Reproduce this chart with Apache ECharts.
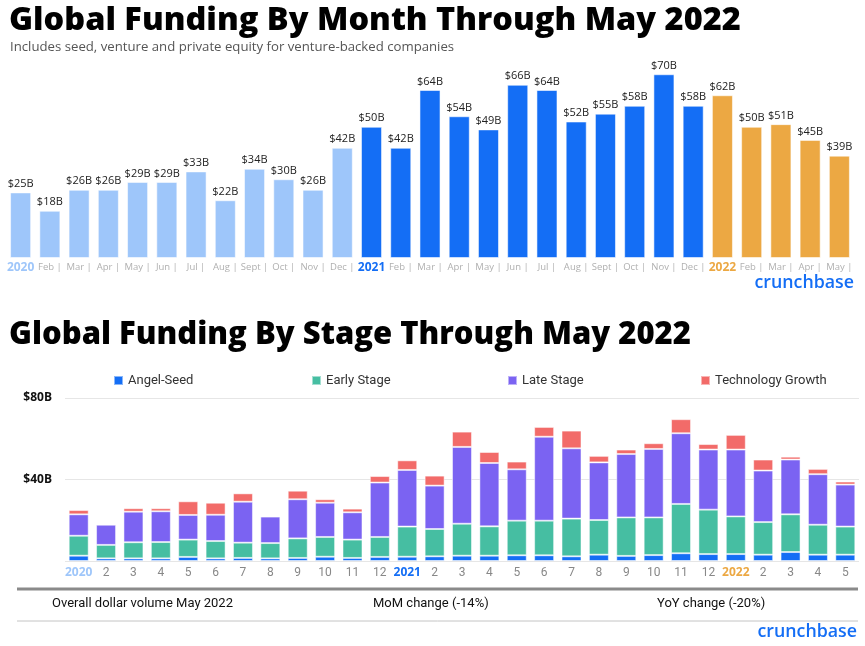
<!DOCTYPE html>
<html><head><meta charset="utf-8">
<script src="https://cdn.jsdelivr.net/npm/echarts@6/dist/echarts.min.js"></script>
<style>html,body{margin:0;padding:0;background:#fff}#c{width:865px;height:646px}</style>
</head><body><div id="c"></div>
<script>
// ---- data ----
const monthLabels = ['2020','Feb','Mar','Apr','May','Jun','Jul','Aug','Sept','Oct','Nov','Dec',
  '2021','Feb','Mar','Apr','May','Jun','Jul','Aug','Sept','Oct','Nov','Dec',
  '2022','Feb','Mar','Apr','May'];
const monthValues = [25,18,26,26,29,29,33,22,34,30,26,42, 50,42,64,54,49,66,64,52,55,58,70,58, 62,50,51,45,39];
const monthYears = [2020,2020,2020,2020,2020,2020,2020,2020,2020,2020,2020,2020,
  2021,2021,2021,2021,2021,2021,2021,2021,2021,2021,2021,2021, 2022,2022,2022,2022,2022];

const stageLabels = ['2020','2','3','4','5','6','7','8','9','10','11','12',
  '2021','2','3','4','5','6','7','8','9','10','11','12',
  '2022','2','3','4','5'];
const angelSeed  = [2.6,1.3,1.3,1.3,2.0,1.3,1.5,1.3,1.5,2.1,1.5,2.0, 2.1,2.3,2.6,2.6,2.8,2.8,2.3,3.1,2.5,2.9,3.8,3.4, 3.4,3.1,4.4,3.1,3.1];
const earlyStage = [9.8,6.6,7.9,8.0,8.5,8.5,7.5,7.5,9.6,9.7,9.0,9.8, 14.8,13.4,15.7,14.4,17.0,17.0,18.5,17.0,18.9,18.5,24.2,21.8, 18.5,16.0,18.5,14.7,13.8];
const lateStage  = [10.5,9.9,15.0,15.1,12.1,12.9,20.1,13.0,19.2,16.8,13.4,26.7, 27.8,21.3,37.7,31.1,25.2,41.2,34.5,28.3,31.1,33.6,34.7,29.5, 32.8,25.3,26.9,24.8,20.6];
const techGrowth = [2.1,0.2,1.7,1.5,6.7,5.9,4.1,0.3,4.2,1.7,1.8,3.2, 4.7,4.9,7.5,5.4,3.8,4.8,8.7,3.2,2.2,2.8,6.9,2.7, 7.2,5.4,1.4,2.6,1.5];
const stageTicks = [0,40,80];

// ---- styles ----
const yearColor = {2020:'#9ec6fa',2021:'#146ef5',2022:'#eca843'};
const stageColors = {'Angel-Seed':'#146ef5','Early Stage':'#46bea2','Late Stage':'#7b63f2','Technology Growth':'#f26b69'};
const FONT = "'Open Sans', sans-serif";

const chart = echarts.init(document.getElementById('c'), null, {renderer:'canvas'});

function yearRich(){
  return {
    y2020:{color:yearColor[2020],fontWeight:'bold',fontSize:12,fontFamily:FONT},
    y2021:{color:yearColor[2021],fontWeight:'bold',fontSize:12,fontFamily:FONT},
    y2022:{color:yearColor[2022],fontWeight:'bold',fontSize:12,fontFamily:FONT}
  };
}

const stageNames = ['Angel-Seed','Early Stage','Late Stage','Technology Growth'];
const stageData = [angelSeed, earlyStage, lateStage, techGrowth];
const legendLefts = [108, 306, 502, 695];

const option = {
  animation:false,
  backgroundColor:'#fff',
  title:[
    {text:'Global Funding By Month Through May 2022', left:4, top:-1,
     textStyle:{fontFamily:FONT,fontWeight:800,fontSize:32.5,color:'#000'}},
    {text:'Includes seed, venture and private equity for venture-backed companies', left:5, top:36,
     textStyle:{fontFamily:FONT,fontWeight:'normal',fontSize:13.2,color:'#555'}},
    {text:'Global Funding By Stage Through May 2022', left:4, top:315,
     textStyle:{fontFamily:FONT,fontWeight:800,fontSize:31,color:'#000'}}
  ],
  legend: stageNames.map((n,i)=>({
    data:[n], left:legendLefts[i], top:369, itemWidth:9, itemHeight:9, itemGap:6,
    icon:'rect', textStyle:{fontFamily:"Roboto, sans-serif",fontSize:13,color:'#333'}
  })),
  grid:[
    {left:6, right:11, top:48, height:210},
    {left:65, right:6, top:398, height:163}
  ],
  xAxis:[
    {type:'category', gridIndex:0, data:monthLabels,
     axisLine:{show:false}, axisTick:{show:false},
     axisLabel:{interval:0, margin:4,
       formatter:v=>/^\d{4}$/.test(v)?'{y'+v+'|'+v+'}':'{m|'+v+' |}',
       rich:Object.assign(yearRich(),{m:{color:'#b0b0b0',fontSize:9.5,fontFamily:FONT}})}},
    {type:'category', gridIndex:1, data:stageLabels,
     axisLine:{show:false}, axisTick:{show:false},
     axisLabel:{interval:0, margin:6,
       formatter:v=>/^\d{4}$/.test(v)?'{y'+v+'|'+v+'}':'{m|'+v+'}',
       rich:Object.assign(yearRich(),{m:{color:'#888',fontSize:12,fontFamily:"Roboto, sans-serif"}})}}
  ],
  yAxis:[
    {type:'value', gridIndex:0, min:0, max:80, show:false},
    {type:'value', gridIndex:1, min:stageTicks[0], max:stageTicks[2], interval:stageTicks[1]-stageTicks[0],
     axisLine:{show:false}, axisTick:{show:false},
     splitLine:{lineStyle:{color:'#e6e6e6',width:1}},
     axisLabel:{margin:13, formatter:v=>v===0?'':'$'+v+'B',
       color:'#111', fontWeight:'bold', fontSize:12, fontFamily:FONT}}
  ],
  series:[
    {type:'bar', xAxisIndex:0, yAxisIndex:0, barWidth:'72%',
     data:monthValues.map((v,i)=>({value:v,itemStyle:{color:yearColor[monthYears[i]]}})),
     itemStyle:{borderColor:'rgba(255,255,255,0.55)',borderWidth:1},
     label:{show:true, position:'top', distance:3, formatter:p=>'$'+p.value+'B',
       fontFamily:FONT, fontSize:11, color:'#222'}}
  ].concat(stageNames.map((n,i)=>({
    name:n, type:'bar', stack:'stage', xAxisIndex:1, yAxisIndex:1, barWidth:'73%',
    itemStyle:{color:stageColors[n], borderColor:'rgba(255,255,255,0.5)', borderWidth:1},
    data:stageData[i]
  }))),
  graphic:[
    {type:'text', right:11, top:274, style:{text:'crunchbase', fill:'#146ef5',
      font:"600 17.8px 'Open Sans', sans-serif"}},
    {type:'line', shape:{x1:17,y1:589,x2:858,y2:589}, style:{stroke:'#8a8a8a',lineWidth:3}},
    {type:'text', left:52, top:597, style:{text:'Overall dollar volume May 2022', fill:'#111',
      font:"13px Roboto, sans-serif"}},
    {type:'text', left:373, top:597, style:{text:'MoM change (-14%)', fill:'#111',
      font:"13px Roboto, sans-serif"}},
    {type:'text', left:657, top:597, style:{text:'YoY change (-20%)', fill:'#111',
      font:"13px Roboto, sans-serif"}},
    {type:'line', shape:{x1:17,y1:621,x2:858,y2:621}, style:{stroke:'#c4c4c4',lineWidth:1}},
    {type:'text', right:8, top:623, style:{text:'crunchbase', fill:'#146ef5',
      font:"600 17.8px 'Open Sans', sans-serif"}}
  ]
};
chart.setOption(option);
</script></body></html>
